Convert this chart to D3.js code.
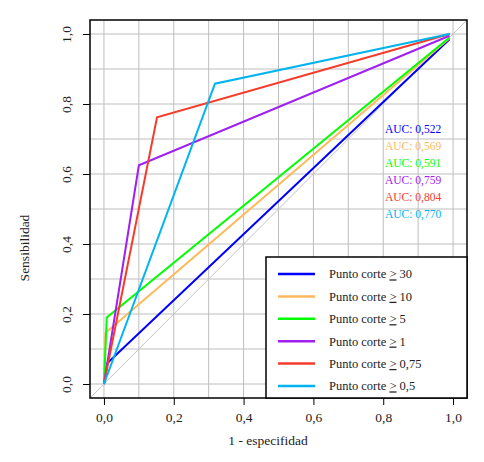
<!DOCTYPE html>
<html>
<head>
<meta charset="utf-8">
<script src="https://cdn.jsdelivr.net/npm/d3@7"></script>
<style>
  body { margin: 0; background: #fff; }
  text { font-family: "Liberation Serif", "DejaVu Serif", serif; }
</style>
</head>
<body>
<div id="chart-area"></div>
<script>
// series data (1 - especificidad, sensibilidad)
var cutoffs = ["30", "10", "5", "1", "0,75", "0,5"];
var aucs = ["0,522", "0,569", "0,591", "0,759", "0,804", "0,770"];
var colors = ["#0000FF", "#FDBA5C", "#00FF00", "#A020F0", "#F53C2A", "#00B4F0"];
var fpr = [
    [0, 0.010, 0.990],
    [0, 0.004, 0.990],
    [0, 0.008, 0.990],
    [0, 0.100, 0.990],
    [0, 0.152, 0.990],
    [0, 0.318, 0.990]
];
var tpr = [
    [0, 0.060, 0.985],
    [0, 0.146, 0.988],
    [0, 0.190, 0.990],
    [0, 0.625, 0.995],
    [0, 0.762, 1.000],
    [0, 0.858, 1.000]
];
var tickVals = [0, 0.2, 0.4, 0.6, 0.8, 1.0];
var gridVals = d3.range(0, 11).map((i) => i / 10);

var W = 484, H = 462;
var box = {left: 90, right: 467, top: 20, bottom: 398};

var svg = d3.select("#chart-area").append("svg")
    .attr("width", W)
    .attr("height", H);

svg.append("rect").attr("width", W).attr("height", H).attr("fill", "#fff");

var x = d3.scaleLinear().domain([-0.04, 1.04]).range([box.left, box.right]);
var y = d3.scaleLinear().domain([-0.04, 1.04]).range([box.bottom, box.top]);

var fmt = (d) => d3.format(".1f")(d).replace(".", ",");

// grid
var grid = svg.append("g").attr("stroke", "#BEBEBE").attr("stroke-width", 1);
grid.selectAll("line.v").data(gridVals).enter().append("line")
    .attr("class", "v")
    .attr("x1", (d) => x(d)).attr("x2", (d) => x(d))
    .attr("y1", box.top).attr("y2", box.bottom);
grid.selectAll("line.h").data(gridVals).enter().append("line")
    .attr("class", "h")
    .attr("y1", (d) => y(d)).attr("y2", (d) => y(d))
    .attr("x1", box.left).attr("x2", box.right);

// diagonal reference
svg.append("line")
    .attr("x1", x(-0.04)).attr("y1", y(-0.04))
    .attr("x2", x(1.04)).attr("y2", y(1.04))
    .attr("stroke", "#C4C4C4")
    .attr("stroke-width", 1);

// curves
var line = d3.line()
    .x((d) => x(d[0]))
    .y((d) => y(d[1]));

cutoffs.forEach((c, i) => {
    var pts = fpr[i].map((v, j) => [v, tpr[i][j]]);
    svg.append("path")
        .attr("fill", "none")
        .attr("stroke", colors[i])
        .attr("stroke-width", 2)
        .attr("stroke-linejoin", "miter")
        .attr("d", line(pts));
});

// axes
var xAxis = svg.append("g")
    .attr("transform", "translate(0," + box.bottom + ")")
    .call(d3.axisBottom(x).tickValues(tickVals).tickFormat(fmt).tickSize(7).tickPadding(7));
var yAxis = svg.append("g")
    .attr("transform", "translate(" + box.left + ",0)")
    .call(d3.axisLeft(y).tickValues(tickVals).tickFormat(fmt).tickSize(7).tickPadding(12));

[xAxis, yAxis].forEach((a) => {
    a.select(".domain").remove();
    a.selectAll("line").attr("stroke", "#000").attr("stroke-width", 1);
    a.selectAll("text").attr("fill", "#222").style("font-size", "13.5px");
});
yAxis.selectAll("text")
    .attr("x", 0).attr("y", -19).attr("dy", 0)
    .attr("text-anchor", "middle")
    .attr("transform", "rotate(-90)");

// frame
svg.append("rect")
    .attr("x", box.left).attr("y", box.top)
    .attr("width", box.right - box.left).attr("height", box.bottom - box.top)
    .attr("fill", "none")
    .attr("stroke", "#000")
    .attr("stroke-width", 1.5);

// titles
svg.append("text")
    .attr("x", 268).attr("y", 445)
    .attr("text-anchor", "middle")
    .attr("fill", "#222")
    .style("font-size", "13.5px")
    .text("1 - especifidad");
svg.append("text")
    .attr("transform", "translate(29,248) rotate(-90)")
    .attr("text-anchor", "middle")
    .attr("fill", "#222")
    .style("font-size", "13.5px")
    .text("Sensibilidad");

// AUC labels
svg.selectAll("text.auc").data(aucs).enter().append("text")
    .attr("class", "auc")
    .attr("x", 385)
    .attr("y", (d, i) => 133 + i * 16.9)
    .attr("fill", (d, i) => colors[i])
    .style("font-size", "11.5px")
    .text((d) => "AUC: " + d);

// legend
var lw = 201, lh = 141;
var legend = svg.append("g")
    .attr("transform", "translate(" + (box.right - lw) + "," + (box.bottom - lh) + ")");
legend.append("rect")
    .attr("width", lw).attr("height", lh)
    .attr("fill", "#fff")
    .attr("stroke", "#000")
    .attr("stroke-width", 1.5);
var rows = legend.selectAll("g.row").data(cutoffs).enter().append("g")
    .attr("class", "row")
    .attr("transform", (d, i) => "translate(0," + (17 + i * 22.4) + ")");
rows.append("line")
    .attr("x1", 12).attr("x2", 49)
    .attr("stroke", (d, i) => colors[i])
    .attr("stroke-width", 2.5);
var lt = rows.append("text")
    .attr("x", 63).attr("dy", "0.35em")
    .attr("fill", "#222")
    .style("font-size", "12.5px");
lt.append("tspan").text("Punto corte ");
lt.append("tspan").style("text-decoration", "underline").text(">");
lt.append("tspan").text((d) => " " + d);
</script>
</body>
</html>
